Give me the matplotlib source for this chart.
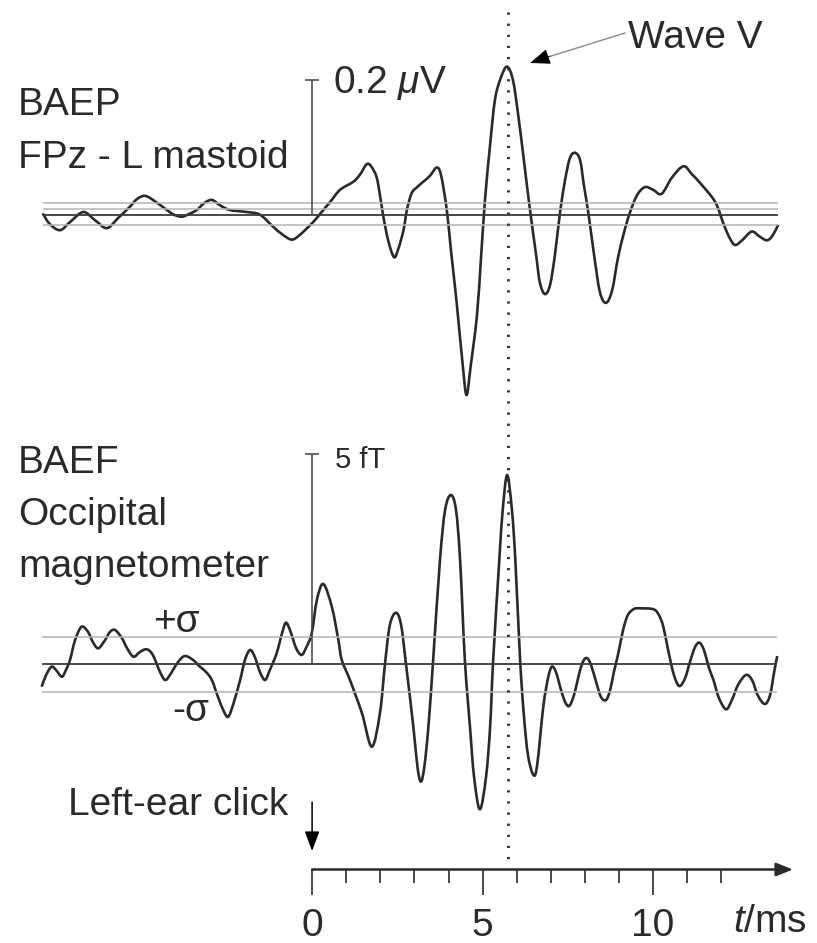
import numpy as np
import matplotlib
matplotlib.use("Agg")
import matplotlib.pyplot as plt
from matplotlib.path import Path
from matplotlib.patches import PathPatch

plt.rcParams['font.family'] = ['Liberation Sans', 'DejaVu Sans']
plt.rcParams['mathtext.fontset'] = 'custom'
plt.rcParams['mathtext.rm'] = 'Liberation Sans'
plt.rcParams['mathtext.it'] = 'Liberation Sans:italic'

# BAEP trace (EEG), time in ms, amplitude in microvolts
baep_t = [-7.90, -7.69, -7.39, -7.10, -6.71, -6.37, -6.02, -5.69, -5.34, -5.14,
          -4.90, -4.61, -4.26, -4.05, -3.82, -3.61, -3.38, -3.17, -2.94, -2.70,
          -2.41, -1.92, -1.53, -1.14, -0.88, -0.60, -0.36, 0.03, 0.23, 0.53,
          0.82, 1.21, 1.41, 1.60, 1.73, 1.89, 1.99, 2.09, 2.23, 2.40,
          2.52, 2.68, 2.78, 2.92, 3.08, 3.26, 3.46, 3.65, 3.78, 3.95,
          4.07, 4.24, 4.42, 4.53, 4.65, 4.83, 4.95, 5.07, 5.22, 5.36,
          5.51, 5.71, 5.89, 6.05, 6.21, 6.39, 6.57, 6.68, 6.83, 6.98,
          7.12, 7.27, 7.42, 7.56, 7.71, 7.86, 7.97, 8.10, 8.27, 8.44,
          8.62, 8.80, 8.97, 9.15, 9.32, 9.53, 9.76, 10.00, 10.25, 10.55,
          10.89, 11.14, 11.38, 11.82, 12.06, 12.23, 12.40, 12.61, 12.89, 13.11,
          13.33, 13.49, 13.67]
baep_uv = [0.002, -0.014, -0.023, -0.011, 0.004, -0.008, -0.020, -0.005, 0.012, 0.023,
           0.028, 0.020, 0.007, 0.000, -0.003, 0.001, 0.007, 0.017, 0.022, 0.014,
           0.007, 0.004, 0.000, -0.018, -0.029, -0.037, -0.030, -0.011, 0.001, 0.019,
           0.037, 0.049, 0.060, 0.075, 0.072, 0.056, 0.029, -0.003, -0.038, -0.063,
           -0.052, -0.023, 0.007, 0.032, 0.041, 0.049, 0.058, 0.070, 0.059, 0.007,
           -0.052, -0.131, -0.225, -0.268, -0.225, -0.152, -0.067, 0.022, 0.104, 0.170,
           0.200, 0.220, 0.200, 0.146, 0.081, 0.007, -0.060, -0.101, -0.118, -0.104,
           -0.060, 0.003, 0.052, 0.084, 0.092, 0.081, 0.044, 0.003, -0.060, -0.115,
           -0.131, -0.112, -0.064, -0.026, 0.003, 0.029, 0.041, 0.037, 0.031, 0.055,
           0.072, 0.060, 0.047, 0.019, -0.013, -0.033, -0.045, -0.038, -0.025, -0.032,
           -0.038, -0.032, -0.015]
baep_band = [0.017, 0.008, -0.015]   # grey noise-level lines
baep_scale = 0.2                     # microvolts

# BAEF trace (MEG), time in ms, field in femtotesla
baef_t = [-7.93, -7.80, -7.64, -7.51, -7.34, -7.22, -7.10, -6.95, -6.76, -6.57,
          -6.43, -6.27, -6.07, -5.93, -5.78, -5.58, -5.43, -5.24, -5.05, -4.85,
          -4.67, -4.46, -4.31, -4.17, -3.93, -3.73, -3.49, -3.29, -3.11, -2.94,
          -2.76, -2.58, -2.46, -2.32, -2.11, -1.97, -1.82, -1.68, -1.53, -1.38,
          -1.24, -1.04, -0.88, -0.77, -0.65, -0.47, -0.31, -0.18, -0.01, 0.14,
          0.33, 0.58, 0.77, 0.87, 1.11, 1.46, 1.75, 1.99, 2.14, 2.28,
          2.46, 2.61, 2.75, 2.97, 3.09, 3.19, 3.29, 3.41, 3.55, 3.75,
          3.90, 4.07, 4.22, 4.34, 4.48, 4.63, 4.75, 4.92, 5.10, 5.22,
          5.31, 5.49, 5.59, 5.72, 5.86, 5.96, 6.10, 6.21, 6.33, 6.49,
          6.60, 6.78, 6.92, 7.03, 7.15, 7.30, 7.42, 7.54, 7.68, 7.86,
          7.97, 8.07, 8.18, 8.33, 8.47, 8.62, 8.74, 8.85, 8.98, 9.12,
          9.26, 9.44, 9.62, 10.01, 10.17, 10.30, 10.44, 10.61, 10.77, 10.94,
          11.08, 11.23, 11.36, 11.49, 11.64, 11.77, 11.93, 12.14, 12.31, 12.49,
          12.72, 12.90, 13.08, 13.28, 13.43, 13.55, 13.64]
baef_ft = [-0.533, -0.254, -0.057, -0.136, -0.295, -0.136, 0.102, 0.578, 0.894, 0.768,
           0.530, 0.380, 0.578, 0.768, 0.816, 0.625, 0.388, 0.181, 0.292, 0.357,
           0.221, -0.183, -0.373, -0.254, 0.055, 0.197, 0.102, -0.057, -0.183, -0.373,
           -0.777, -1.134, -1.246, -0.968, -0.373, 0.102, 0.340, 0.174, -0.183, -0.373,
           -0.136, 0.262, 0.744, 0.989, 0.816, 0.388, 0.221, 0.388, 0.744, 1.529,
           1.909, 1.362, 0.578, 0.102, -0.373, -1.158, -1.959, -1.158, 0.031, 0.934,
           1.227, 0.934, 0.031, -1.491, -2.442, -2.791, -2.442, -1.491, 0.102, 2.480,
           3.669, 4.025, 3.669, 2.480, 0.102, -1.491, -2.680, -3.448, -2.680, -1.491,
           0.102, 2.480, 3.669, 4.501, 3.669, 2.480, 0.102, -1.205, -2.156, -2.632,
           -2.394, -1.008, -0.326, -0.057, -0.183, -0.611, -0.896, -0.991, -0.730, -0.136,
           0.102, 0.143, -0.017, -0.421, -0.777, -0.849, -0.611, -0.183, 0.262, 0.816,
           1.172, 1.315, 1.331, 1.308, 1.172, 0.894, 0.340, -0.254, -0.516, -0.326,
           0.055, 0.411, 0.514, 0.340, -0.088, -0.373, -0.801, -1.070, -0.849, -0.492,
           -0.254, -0.373, -0.754, -0.944, -0.730, -0.183, 0.197]
baef_sigma = 0.655                   # femtotesla
baef_scale = 5                       # femtotesla

wave_v_t = 5.75
major_ticks = [0, 5, 10]
minor_ticks = [1, 2, 3, 4, 6, 7, 8, 9, 11, 12]

# layout (pixels)
W, H = 817, 943
T0_PX, PX_PER_MS = 312.1, 34.1
BAEP_BASE, BAEP_PX = 214.7, 673.0
BAEF_BASE, BAEF_PX = 664.3, 42.06
AXIS_Y = 869.5
FS = 28
INK = '#2a2a2a'
GREY = '#b4b4b4'

xlim = (-T0_PX / PX_PER_MS, (W - T0_PX) / PX_PER_MS)

fig = plt.figure(figsize=(W / 100, H / 100), dpi=100)


def new_axes(ylim, xl=xlim):
    ax = fig.add_axes([0, 0, 1, 1])
    ax.set_xlim(*xl)
    ax.set_ylim(*ylim)
    ax.axis('off')
    ax.patch.set_alpha(0)
    return ax


def smooth_trace(ax, xs, ys, **kw):
    # draw the read points as a Catmull-Rom curve (cubic Bezier segments)
    p = np.column_stack([xs, ys])
    n = len(p)
    verts = [p[0]]
    codes = [Path.MOVETO]
    for i in range(n - 1):
        p0 = p[max(i - 1, 0)]
        p1, p2 = p[i], p[i + 1]
        p3 = p[min(i + 2, n - 1)]
        verts += [p1 + (p2 - p0) / 6, p2 - (p3 - p1) / 6, p2]
        codes += [Path.CURVE4] * 3
    ax.add_patch(PathPatch(Path(verts, codes), fill=False, **kw))


ax_top = new_axes(((BAEP_BASE - H) / BAEP_PX, BAEP_BASE / BAEP_PX))
ax_bot = new_axes(((BAEF_BASE - H) / BAEF_PX, BAEF_BASE / BAEF_PX))
ax_time = new_axes((H, 0))
ax_px = new_axes((H, 0), (0, W))

# upper panel
t_a, t_b = baep_t[0], baep_t[-1]
for lvl in baep_band:
    ax_top.hlines(lvl, t_a, t_b, color=GREY, lw=1.1)
ax_top.hlines(0, t_a, t_b, color='#3a3a3a', lw=1.3)
smooth_trace(ax_top, baep_t, baep_uv, edgecolor=INK, lw=1.9, joinstyle='round')
ax_top.vlines(0, 0, baep_scale, color='#444', lw=1.1)
ax_top.hlines(baep_scale, -0.2, 0.2, color='#444', lw=1.1)

# lower panel
t_a, t_b = baef_t[0], baef_t[-1]
for lvl in (baef_sigma, -baef_sigma):
    ax_bot.hlines(lvl, t_a, t_b, color=GREY, lw=1.1)
ax_bot.hlines(0, t_a, t_b, color='#3a3a3a', lw=1.3)
smooth_trace(ax_bot, baef_t, baef_ft, edgecolor=INK, lw=1.9, joinstyle='round')
ax_bot.vlines(0, 0, baef_scale, color='#444', lw=1.1)
ax_bot.hlines(baef_scale, -0.2, 0.2, color='#444', lw=1.1)

# dotted marker for wave V
ax_time.vlines(wave_v_t, 12, 860, color=INK, lw=2.0, linestyles=(0, (0.8, 3.2)))

# time axis
ax_time.annotate('', xy=(14.1, AXIS_Y), xytext=(0, AXIS_Y),
                 arrowprops=dict(arrowstyle='-|>,head_length=1.0,head_width=0.4',
                                 color=INK, lw=1.8, shrinkA=0, shrinkB=0))
ax_time.vlines(major_ticks, AXIS_Y, 895, color=INK, lw=1.2)
ax_time.vlines(minor_ticks, AXIS_Y, 883, color=INK, lw=1.2)
for t in major_ticks:
    ax_time.text(t, 936, str(t), ha='center', va='baseline', fontsize=FS, color=INK)
ax_time.text(12.35, 932, '$t$/ms', ha='left', va='baseline', fontsize=FS, color=INK)

# stimulus arrow
ax_time.annotate('', xy=(0, 851), xytext=(0, 802),
                 arrowprops=dict(arrowstyle='-|>,head_length=1.2,head_width=0.45',
                                 color='black', lw=1.1, shrinkA=0, shrinkB=0))

# labels
txt = dict(fontsize=FS, color=INK, va='baseline', ha='left')
ax_px.text(18, 115, 'BAEP', **txt)
ax_px.text(18, 168, 'FPz - L mastoid', **txt)
ax_px.text(18, 473, 'BAEF', **txt)
ax_px.text(18, 525, 'Occipital', **txt)
ax_px.text(18, 577, 'magnetometer', **txt)
ax_px.text(333, 93, r'0.2 $\mu$V', **txt)
ax_px.text(335, 468, '5 fT', fontsize=21, color=INK, va='baseline', ha='left')
ax_px.text(153, 632, '+σ', **txt)
ax_px.text(172, 721, '-σ', **txt)
ax_px.text(68, 815, 'Left-ear click', **txt)
ax_px.text(628, 48, 'Wave V', **txt)

# arrow pointing at wave V
ax_px.plot([625, 548], [33, 57], color='#8a8a8a', lw=1.0)
ax_px.annotate('', xy=(530, 63), xytext=(550, 56),
               arrowprops=dict(arrowstyle='-|>,head_length=1.3,head_width=0.5',
                               color='black', lw=0.5, shrinkA=0, shrinkB=0))

fig.savefig('out.png', dpi=100, facecolor='white')
